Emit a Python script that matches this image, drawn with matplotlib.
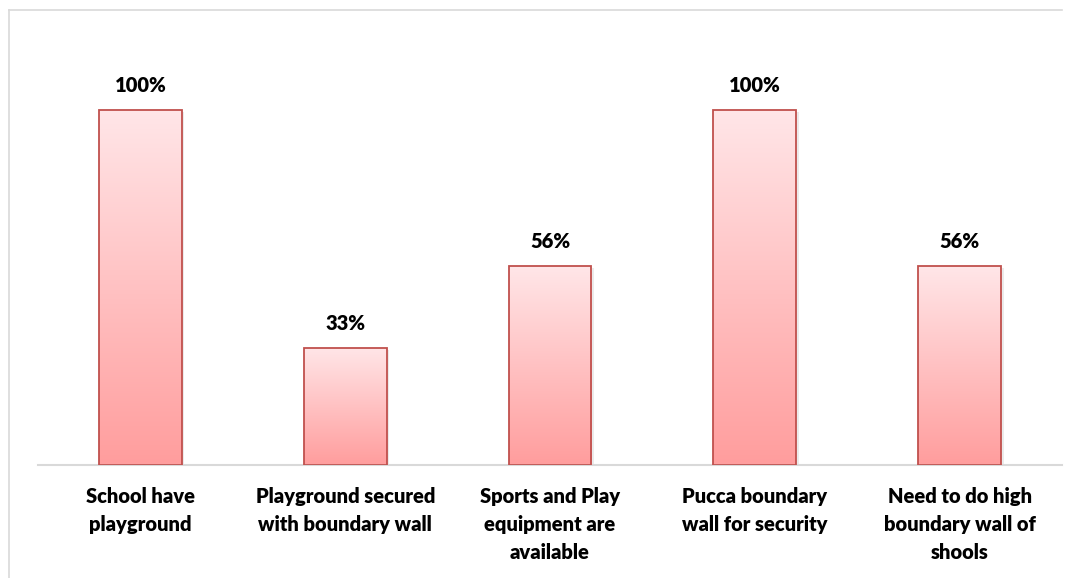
import matplotlib
matplotlib.use("Agg")
import matplotlib.pyplot as plt
import numpy as np
from matplotlib.colors import LinearSegmentedColormap
from matplotlib.lines import Line2D

categories = [
    "School have\nplayground",
    "Playground secured\nwith boundary wall",
    "Sports and Play\nequipment are\navailable",
    "Pucca boundary\nwall for security",
    "Need to do high\nboundary wall of\nshools",
]
values = [1.00, 0.33, 0.56, 1.00, 0.56]
value_labels = ["100%", "33%", "56%", "100%", "56%"]

plt.rcParams["font.family"] = ["Lato", "DejaVu Sans"]

fig = plt.figure(figsize=(10.76, 5.78), dpi=100)
ax = fig.add_axes([38 / 1076, 1 - 465 / 578, 1024 / 1076, 444 / 578])

x = np.arange(len(values))
bar_w = 0.405
bars = ax.bar(x, values, width=bar_w, facecolor="none", edgecolor="#C0504D",
              linewidth=1.3, zorder=3)

# vertical gradient fill, light at top, deeper pink at bottom
grad = LinearSegmentedColormap.from_list("pinks", ["#FF9D9D", "#FFE6E8"])
ramp = np.linspace(0, 1, 256).reshape(-1, 1)
for b in bars:
    x0, w, h = b.get_x(), b.get_width(), b.get_height()
    # soft shadow
    ax.bar(x0 + w / 2 + 0.012, h, width=w, bottom=-0.006, color="#000000",
           alpha=0.08, zorder=1, linewidth=0)
    im = ax.imshow(ramp, cmap=grad, aspect="auto", origin="lower",
                   extent=[x0, x0 + w, 0, h], zorder=2)
    im.set_clip_path(b)

for xi, v, lab in zip(x, values, value_labels):
    ax.text(xi, v + 0.042, lab, ha="center", va="bottom", fontsize=14.5,
            fontweight="heavy", color="black")

ax.set_xlim(-0.5, len(values) - 0.5)
ax.set_ylim(0, 1.25)
ax.set_xticks(x)
ax.set_xticklabels(categories, fontsize=14.5, fontweight="heavy", linespacing=1.55)
ax.tick_params(axis="x", length=0, pad=16)
ax.set_yticks([])
for s in ["top", "right", "left"]:
    ax.spines[s].set_visible(False)
ax.spines["bottom"].set_color("#D9D9D9")
ax.spines["bottom"].set_linewidth(1.5)

# chart frame lines (top and left)
fig.add_artist(Line2D([9 / 1076, 1062 / 1076], [1 - 10 / 578, 1 - 10 / 578],
                      transform=fig.transFigure, color="#D9D9D9", linewidth=1.2))
fig.add_artist(Line2D([9 / 1076, 9 / 1076], [0, 1 - 10 / 578],
                      transform=fig.transFigure, color="#D9D9D9", linewidth=1.2))

fig.savefig("out.png", dpi=100, facecolor="white")
